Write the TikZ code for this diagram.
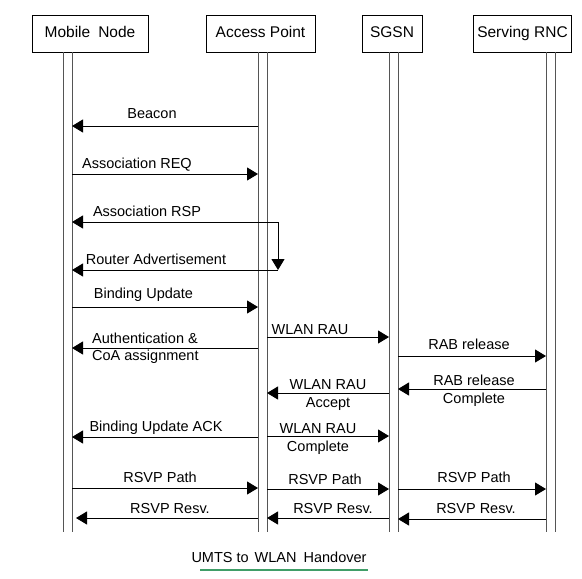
\documentclass[tikz,border=0pt]{standalone}
\usepackage{fontspec}
\setmainfont{Liberation Sans}
\usepackage{tikz}
\usetikzlibrary{arrows.meta,positioning}
\definecolor{lifegray}{RGB}{85,85,85}
\definecolor{capgreen}{RGB}{64,158,104}

\begin{document}
\begin{tikzpicture}[x=1pt,y=-1pt,
          entity/.style={draw,line width=0.9pt,minimum height=37pt,inner sep=0pt,
                         text height=11.5pt,text depth=3pt,
                         font=\fontsize{15.5}{18}\selectfont},
          life/.style={draw=lifegray,line width=0.9pt},
          msg/.style={-{Triangle[length=11pt,width=13pt]},line width=0.9pt},
          lbl/.style={font=\fontsize{14.5}{17}\selectfont,inner sep=0pt,anchor=base},
          lbltwo/.style={font=\fontsize{14.5}{18}\selectfont,inner sep=0pt,
                         anchor=center,align=center}]
        \useasboundingbox (0,0) rectangle (582,579);
        % entities
        \node[entity,minimum width=116pt] (mn) at (90,33.5) {Mobile\hspace{8pt}Node};
        \node[entity,minimum width=109pt] (ap) at (260.5,33.5) {Access Point};
        \node[entity,minimum width=60pt] (sgsn) at (392,33.5) {SGSN};
        \node[entity,minimum width=98pt] (rnc) at (522.5,33.5) {Serving RNC};
        % lifelines
        \coordinate (mnL) at (63,52);   \coordinate (mnR) at (72,52);
        \coordinate (apL) at (258,52);  \coordinate (apR) at (267,52);
        \coordinate (sgL) at (389,52);  \coordinate (sgR) at (398,52);
        \coordinate (rnL) at (546,52);  \coordinate (rnR) at (555,52);
        \foreach \c in {mnL,mnR,apL,apR,sgL,sgR,rnL,rnR}
          \draw[life] (\c) -- (\c |- 0,532);
        % mobile node <-> access point
        \draw[msg] (apL |- 0,126) -- (mnR |- 0,126);
        \node[lbl] (beacon) at (152,118) {Beacon};
        \draw[msg] (mnR |- 0,174) -- (apL |- 0,174);
        \node[lbl] (areq) at (137,168) {Association REQ};
        \coordinate (turn) at (278,222);
        \coordinate (turnB) at (278,270);
        \draw[msg] (turn) -- (mnR |- turn);
        \draw[msg] (turn) -- (turnB);
        \draw[msg] (turnB) -- (mnR |- turnB);
        \node[lbl] (arsp) at (147,216) {Association RSP};
        \node[lbl] (radv) at (156,264) {Router Advertisement};
        \draw[msg] (mnR |- 0,307) -- (apL |- 0,307);
        \node[lbl] (bu) at (143.5,298) {Binding Update};
        \draw[msg] (apL |- 0,348) -- (mnR |- 0,348);
        \node[lbltwo,anchor=west,align=left,font=\fontsize{14.5}{17}\selectfont]
          (auth) at (92,348) {Authentication \&\\CoA assignment};
        \draw[msg] (apL |- 0,437) -- (mnR |- 0,437);
        \node[lbl] (buack) at (156,431) {Binding Update ACK};
        % access point <-> SGSN
        \draw[msg] (apR |- 0,337) -- (sgL |- 0,337);
        \node[lbl] (rau) at (310,334) {WLAN RAU};
        \draw[msg] (sgL |- 0,393) -- (apR |- 0,393);
        \node[lbltwo] (rauacc) at (328,395) {WLAN RAU\\Accept};
        \draw[msg] (apR |- 0,436) -- (sgL |- 0,436);
        \node[lbltwo] (raucmp) at (318,439.5) {WLAN RAU\\Complete};
        % SGSN <-> serving RNC
        \draw[msg] (sgR |- 0,356) -- (rnL |- 0,356);
        \node[lbl] (rab) at (469,349) {RAB release};
        \draw[msg] (rnL |- 0,389) -- (sgR |- 0,389);
        \node[lbltwo] (rabcmp) at (474,391) {RAB release\\Complete};
        % RSVP
        \draw[msg] (mnR |- 0,488) -- (apL |- 0,488);
        \node[lbl] (path1) at (160,482) {RSVP Path};
        \draw[msg] (apR |- 0,489) -- (sgL |- 0,489);
        \node[lbl] (path2) at (325,484) {RSVP Path};
        \draw[msg] (sgR |- 0,489) -- (rnL |- 0,489);
        \node[lbl] (path3) at (474,482) {RSVP Path};
        \draw[msg] (apL |- 0,518) -- (76,518);
        \node[lbl] (resv1) at (170,513) {RSVP Resv.};
        \draw[msg] (sgL |- 0,518) -- (apR |- 0,518);
        \node[lbl] (resv2) at (333,513) {RSVP Resv.};
        \draw[msg] (rnL |- 0,519) -- (sgR |- 0,519);
        \node[lbl] (resv3) at (476,513) {RSVP Resv.};
        % caption
        \node[lbl] (cap) at (279,562) {UMTS to\hspace{2pt} WLAN\hspace{7pt}Handover};
        \draw[capgreen,line width=2.5pt] (200,570) -- (368,570);
      \end{tikzpicture}
\end{document}
